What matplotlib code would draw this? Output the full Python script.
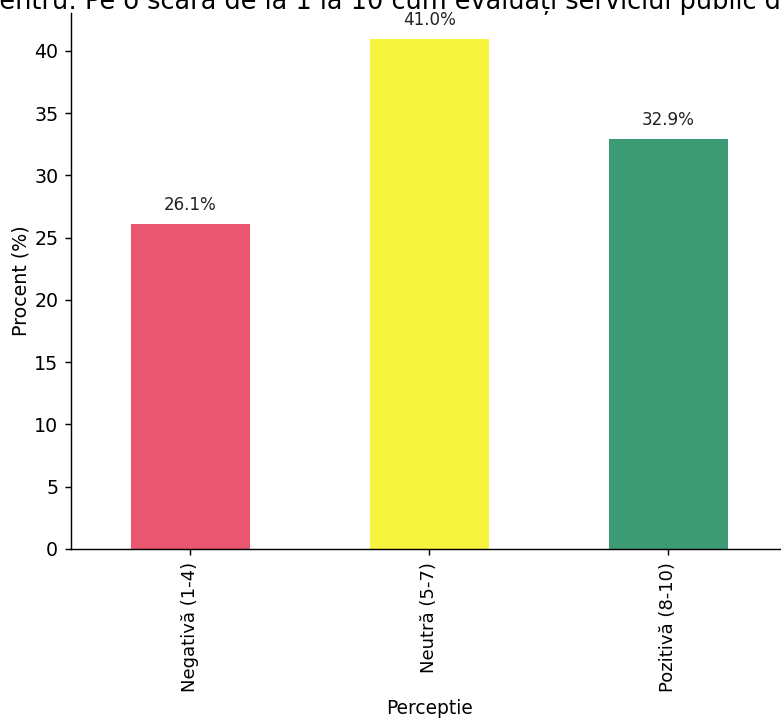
import matplotlib
matplotlib.use("Agg")
import matplotlib.pyplot as plt

categories = ["Negativă (1-4)", "Neutră (5-7)", "Pozitivă (8-10)"]
values = [26.1, 41.0, 32.9]
colors = ["#EA566F", "#F6F43C", "#3C9A74"]
title_text = "pentru: Pe o scară de la 1 la 10 cum evaluați serviciul public d"

DPI = 130
W, H = 781, 718
fig = plt.figure(figsize=(W / DPI, H / DPI), dpi=DPI)
ax = fig.add_axes([71 / W, (H - 549) / H, 717 / W, (549 - 13) / H])

x = list(range(len(categories)))
ax.bar(x, values, width=0.5, color=colors)
ax.set_xlim(-0.5, len(categories) - 0.5)
ax.set_ylim(0, max(values) * 1.05)
ax.set_xticks(x)
ax.set_xticklabels(categories, rotation=90)
ax.set_yticks(range(0, 45, 5))
ax.tick_params(axis="y", labelsize=10.5)
ax.set_xlabel("Perceptie", fontsize=10.3)
ax.set_ylabel("Procent (%)", fontsize=10.5, labelpad=2)
for s in ["top", "right"]:
    ax.spines[s].set_visible(False)

for xi, v in zip(x, values):
    ax.text(xi, v + 0.8, f"{v:.1f}%", ha="center", va="bottom", fontsize=9.3, color="#222222")

# title (cut off by the crop at top/left/right)
TFS = 14.2
t = fig.text(0, 1 - 9 / H, title_text, ha="left", va="baseline", fontsize=TFS)
fig.canvas.draw()
r = fig.canvas.get_renderer()
tmp = fig.text(0, 0, "p", fontsize=TFS)
wp = tmp.get_window_extent(r).width
tmp.remove()
t.set_x(-(wp + 1) / W)

fig.savefig("out.png", dpi=DPI)
